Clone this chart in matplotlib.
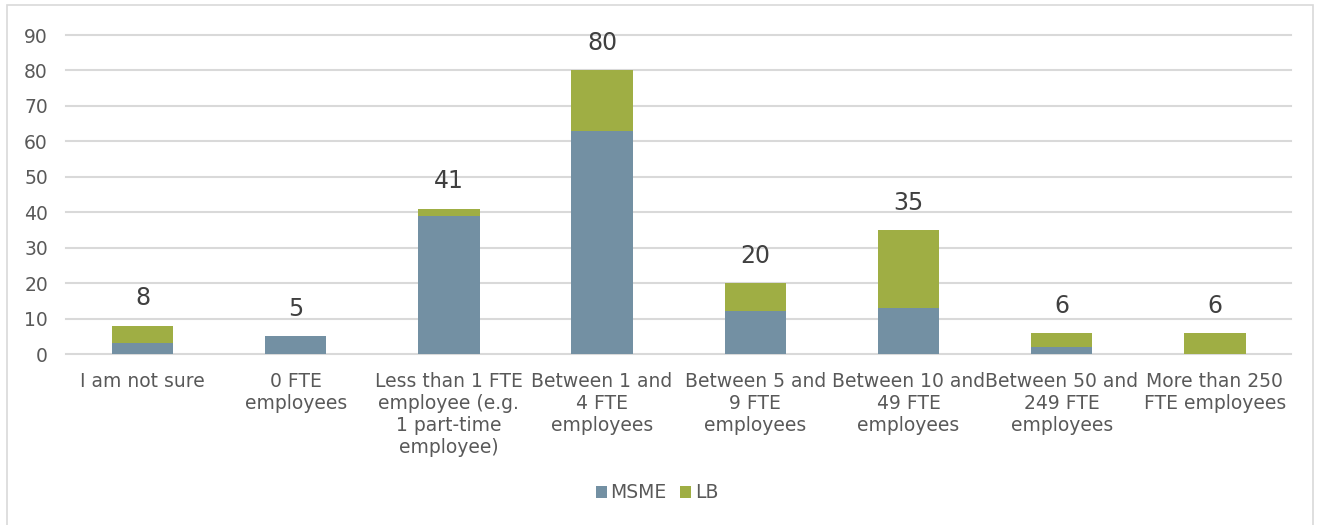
import numpy as np
import matplotlib.pyplot as plt
from matplotlib.patches import Rectangle

plt.rcParams['font.family'] = ['DejaVu Sans']

# Data
categories = ["I am not sure", "0 FTE\nemployees",
              "Less than 1 FTE\nemployee (e.g.\n1 part-time\nemployee)",
              "Between 1 and\n4 FTE\nemployees", "Between 5 and\n9 FTE\nemployees",
              "Between 10 and\n49 FTE\nemployees", "Between 50 and\n249 FTE\nemployees",
              "More than 250\nFTE employees"]
msme = [3, 5, 39, 63, 12, 13, 2, 0]
lb = [5, 0, 2, 17, 8, 22, 4, 6]
totals = [8, 5, 41, 80, 20, 35, 6, 6]

c_msme = '#7390A3'
c_lb = '#9FAE44'
txt = '#595959'

fig = plt.figure(figsize=(13.22, 5.25), dpi=100)
ax = fig.add_axes([0.0499, 0.3257, 0.927, 0.6076])

x = np.arange(len(categories))
ax.bar(x, msme, width=0.4, color=c_msme, label='MSME', zorder=2)
ax.bar(x, lb, width=0.4, bottom=msme, color=c_lb, label='LB', zorder=2)

for xi, t in zip(x, totals):
    ax.text(xi, t + 4.3, str(t), ha='center', va='bottom', fontsize=17, color='#404040')

ax.set_xlim(-0.5, len(categories) - 0.5)
ax.set_ylim(0, 90)
ax.set_yticks(range(0, 91, 10))
ax.grid(axis='y', color='#D9D9D9', linewidth=1.5, zorder=0)
for gl in ax.get_ygridlines():
    gl.set_clip_on(False)
for s in ax.spines.values():
    s.set_visible(False)
ax.tick_params(axis='both', length=0, labelsize=13.5, colors=txt)
ax.tick_params(axis='y', pad=13)
ax.tick_params(axis='x', pad=13)
ax.set_xticks(x)
ax.set_xticklabels(categories, linespacing=1.2)

ax.legend(loc='center', frameon=False, ncol=2, fontsize=13.5, labelcolor=txt,
          handlelength=0.6, handleheight=0.6, handletextpad=0.2, columnspacing=0.7,
          bbox_to_anchor=(0.497, 0.061), bbox_transform=fig.transFigure)

# outer frame
fig.patches.append(Rectangle((0.005, -0.01), 0.988, 1.0, transform=fig.transFigure,
                             fill=False, edgecolor='#D9D9D9', linewidth=1.2))

fig.savefig('out.png', dpi=100)
